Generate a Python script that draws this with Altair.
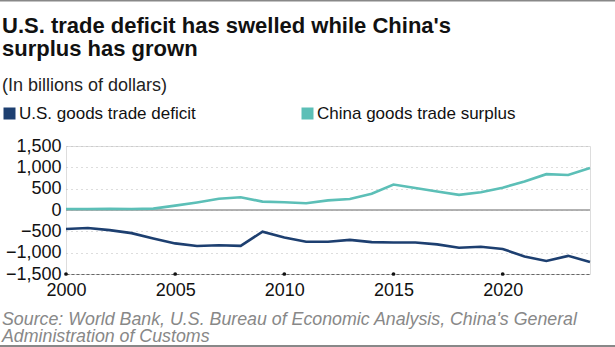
import altair as alt
import pandas as pd

years = list(range(2000, 2025))
us_deficit = [-447, -422, -472, -542, -668, -783, -845, -825, -840, -509, -645, -745, -745, -700, -752, -762, -760, -805, -885, -862, -912, -1090, -1195, -1075, -1218]
china_surplus = [24, 23, 30, 25, 32, 102, 177, 262, 298, 196, 181, 157, 225, 259, 380, 597, 515, 432, 354, 418, 522, 670, 840, 820, 985]
series_names = ["U.S. goods trade deficit", "China goods trade surplus"]
series_colors = ["#1d3f70", "#5cbfb7"]
y_ticks = [-1500, -1000, -500, 0, 500, 1000, 1500]
x_ticks = [2000, 2005, 2010, 2015, 2020]

title_lines = ["U.S. trade deficit has swelled while China's", "surplus has grown"]
subtitle = "(In billions of dollars)"
source_lines = ["Source: World Bank, U.S. Bureau of Economic Analysis, China's General",
                "Administration of Customs"]

df = pd.DataFrame({
    "year": years * 2,
    "value": us_deficit + china_surplus,
    "series": [series_names[0]] * len(years) + [series_names[1]] * len(years),
})
dots = pd.DataFrame({"year": x_ticks, "value": [-1500] * len(x_ticks)})

FONT = "Liberation Sans"
W, H = 524, 128

x_scale = alt.Scale(domain=[2000, 2024], nice=False, zero=False)
y_scale = alt.Scale(domain=[-1500, 1500], nice=False)
color_scale = alt.Scale(domain=series_names, range=series_colors)

x_axis = alt.Axis(values=x_ticks, format="d", labelFontSize=18, labelColor="#111",
                  labelFont=FONT, tickSize=0, labelPadding=7, grid=False,
                  labelOverlap=False, labelFlush=False,
                  domainColor="#666", domainDash=[3, 2], domainWidth=1)
y_axis = alt.Axis(values=y_ticks, format=",d", labelFontSize=18, labelColor="#111",
                  labelFont=FONT, tickSize=0, labelPadding=5, domain=False,
                  labelOverlap=False, labelFlush=False,
                  grid=True, gridDash=[1, 4], gridColor="#bbb", gridWidth=1.2)
x_enc = alt.X("year:Q", scale=x_scale, title=None, axis=x_axis)
y_enc = alt.Y("value:Q", scale=y_scale, title=None, axis=y_axis)

lines = alt.Chart(df).mark_line(strokeWidth=2.6).encode(
    x=x_enc, y=y_enc,
    color=alt.Color("series:N", scale=color_scale,
                    legend=alt.Legend(title=None, orient="none", legendX=-65, legendY=-41,
                                      direction="horizontal", symbolType="square",
                                      symbolSize=1, symbolStrokeWidth=11, symbolOpacity=1,
                                      labelFontSize=17, labelFont=FONT, labelColor="#111",
                                      labelOffset=1, columnPadding=89, labelLimit=400)),
)

zero = alt.Chart(pd.DataFrame({"value": [0]})).mark_rule(color="#999", strokeWidth=1.5).encode(
    y=y_enc
)

tick_dots = alt.Chart(dots).mark_circle(size=14, color="#111", opacity=1).encode(
    x=x_enc, y=y_enc
)

title = alt.Chart(pd.DataFrame({"t": [title_lines]})).mark_text(
    align="left", baseline="alphabetic", font=FONT, fontSize=22, fontWeight="bold",
    color="#111", lineHeight=23
).encode(x=alt.value(-64), y=alt.value(-113.5), text="t")

sub = alt.Chart(pd.DataFrame({"t": [subtitle]})).mark_text(
    align="left", baseline="alphabetic", font=FONT, fontSize=18, color="#222"
).encode(x=alt.value(-64), y=alt.value(-55), text="t")

src = alt.Chart(pd.DataFrame({"t": [source_lines]})).mark_text(
    align="left", baseline="alphabetic", font=FONT, fontSize=17.8, fontStyle="italic",
    color="#888", lineHeight=17
).encode(x=alt.value(-64), y=alt.value(178.5), text="t")

borders = alt.Chart(pd.DataFrame({"y": [-145.5, 200]})).mark_rule(color="#888", strokeWidth=2).encode(
    x=alt.value(-66), x2=alt.value(549), y=alt.Y("y:Q", scale=None)
)

chart = alt.layer(zero, lines, tick_dots, title, sub, src, borders).properties(
    width=W, height=H,
    autosize=alt.AutoSizeParams(type="none"),
    padding={"left": 66, "top": 146, "right": 25, "bottom": 73},
).configure_view(stroke=None).configure_axis(labelOverlap=False).configure(background="white")

chart.save("out.html", embed_options={"renderer": "svg", "actions": False})
